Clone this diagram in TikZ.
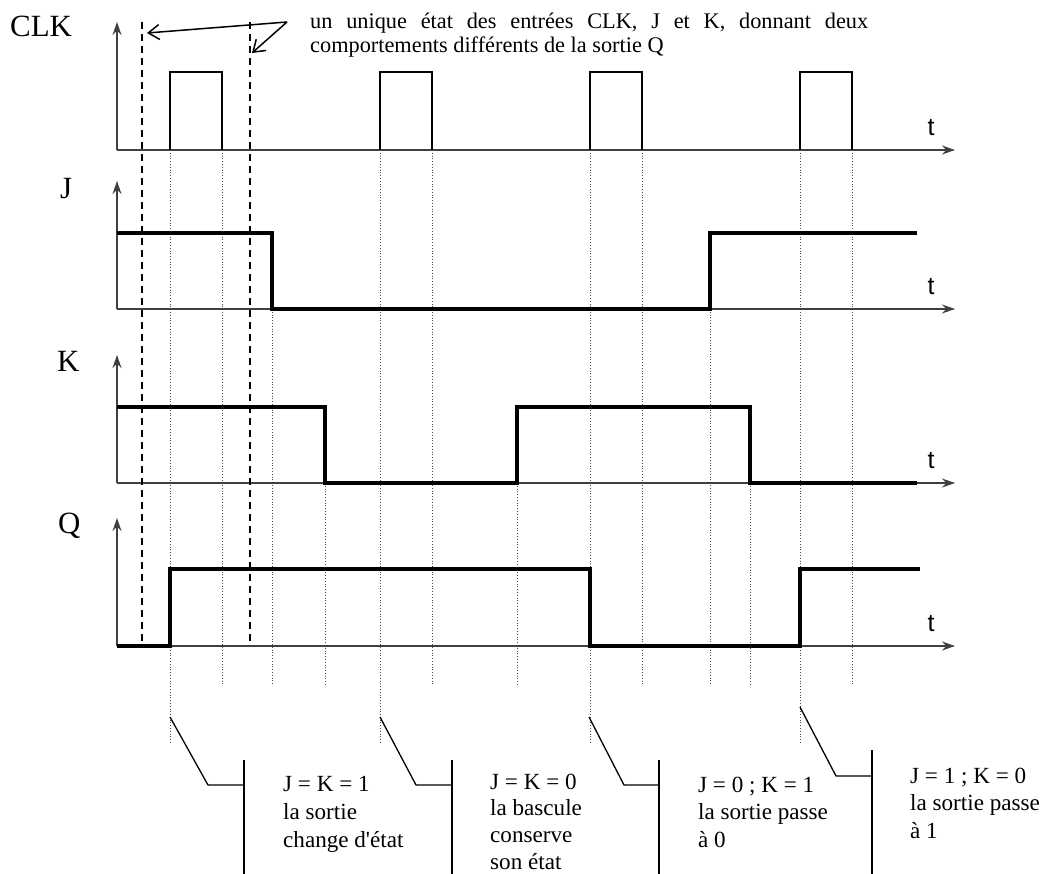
\documentclass[tikz,border=0pt]{standalone}
\usepackage{fontspec}
\setmainfont{Liberation Serif}
\newfontfamily\axisfont{Liberation Sans}
\usetikzlibrary{arrows.meta}

\begin{document}
\begin{tikzpicture}[
    x=1bp,y=-1bp,>={Stealth[length=13bp,width=9bp]},
    sig label/.style={anchor=base west,inner sep=0pt,font=\fontsize{31}{31}\selectfont},
    t label/.style={anchor=base,inner sep=0pt,font=\axisfont\fontsize{25}{25}\selectfont},
    axis line/.style={->,line width=1.3bp,black!75},
    clock line/.style={line width=1.6bp},
    signal line/.style={line width=3.6bp,line join=miter},
    edge line/.style={dotted,line width=0.8bp,black!70},
    probe line/.style={line width=2.2bp,dash pattern=on 7bp off 5bp},
    note arrow/.style={-{Straight Barb[length=11bp,width=15bp]},line width=1.5bp},
    callout line/.style={line width=1.3bp},
    callout text/.style={anchor=north west,inner sep=0pt,align=left,
      font=\fontsize{23.2}{28}\selectfont}
  ]
    \useasboundingbox (0,0) rectangle (1045,874);

    % edge markers
    \foreach \x in {170,380,590,800} \draw[edge line] (\x,150) -- (\x,743);
    \foreach \x in {222,432,642,852} \draw[edge line] (\x,150) -- (\x,685);
    \foreach \x in {272,710} \draw[edge line] (\x,309) -- (\x,685);
    \foreach \x in {325,517,750} \draw[edge line] (\x,483) -- (\x,685);

    % axes
    \foreach \y/\name in {150/clk,309/j,483/k,646/q} {
      \coordinate (\name o) at (117,\y);
      \draw[axis line] (\name o) -- ++(0,-128);
      \draw[axis line] (\name o) -- (955,\y);
      \node[t label] (\name t) at (931,\y-15) {t};
    }
    \node[sig label] (clk) at (10,36) {CLK};
    \node[sig label] (J) at (60,198) {J};
    \node[sig label] (K) at (57,371) {K};
    \node[sig label] (Q) at (58,533) {Q};

    % signals
    \foreach \x in {170,380,590,800}
      \draw[clock line] (\x,150) -- (\x,72) -- (\x+52,72) -- (\x+52,150);
    \draw[signal line] (117,233) -- (272,233) -- (272,309) -- (710,309)
      -- (710,233) -- (917,233);
    \draw[signal line] (117,407) -- (325,407) -- (325,483) -- (517,483)
      -- (517,407) -- (750,407) -- (750,483) -- (917,483);
    \draw[signal line] (117,646) -- (170,646) -- (170,569) -- (590,569)
      -- (590,646) -- (800,646) -- (800,569) -- (920,569);

    % probe instants
    \coordinate (probe1) at (142,22);
    \coordinate (probe2) at (250,22);
    \draw[probe line] (probe1) -- (142,645);
    \draw[probe line] (probe2) -- (250,645);
    \node[anchor=base west,inner sep=0pt,text width=558bp,align=justify,
      font=\fontsize{22.4}{25}\selectfont] (note) at (310,28)
      {un unique état des entrées CLK, J et K, donnant deux\linebreak
       comportements différents de la sortie Q};
    \coordinate (note from) at (287,22);
    \coordinate (hit1) at (147,33);
    \coordinate (hit2) at (252,53);
    \draw[note arrow] (note from) -- (hit1);
    \draw[note arrow] (note from) -- (hit2);

    % callouts
    \coordinate (edge1) at (170,717);
    \coordinate (bar1) at (244,785);
    \draw[callout line] (edge1) -- (208,785) -- (bar1);
    \draw[callout line] (244,760) -- (244,874);
    \node[callout text] (txt1) at (283,776.5)
      {J = K = 1\\la sortie\\change d\textquotesingle état};

    \coordinate (edge2) at (380,717);
    \coordinate (bar2) at (452,785);
    \draw[callout line] (edge2) -- (416,785) -- (bar2);
    \draw[callout line] (452,760) -- (452,874);
    \node[callout text,font=\fontsize{23.2}{27}\selectfont] (txt2) at (490,773.5)
      {J = K = 0\\la bascule\\conserve\\son état};

    \coordinate (edge3) at (589,717);
    \coordinate (bar3) at (659,785);
    \draw[callout line] (edge3) -- (624,785) -- (bar3);
    \draw[callout line] (659,760) -- (659,874);
    \node[callout text] (txt3) at (698,776.5)
      {J = 0 ; K = 1\\la sortie passe\\à 0};

    \coordinate (edge4) at (800,707);
    \coordinate (bar4) at (872,776);
    \draw[callout line] (edge4) -- (836,776) -- (bar4);
    \draw[callout line] (872,750) -- (872,874);
    \node[callout text] (txt4) at (910,767.5)
      {J = 1 ; K = 0\\la sortie passe\\à 1};
  \end{tikzpicture}
\end{document}
